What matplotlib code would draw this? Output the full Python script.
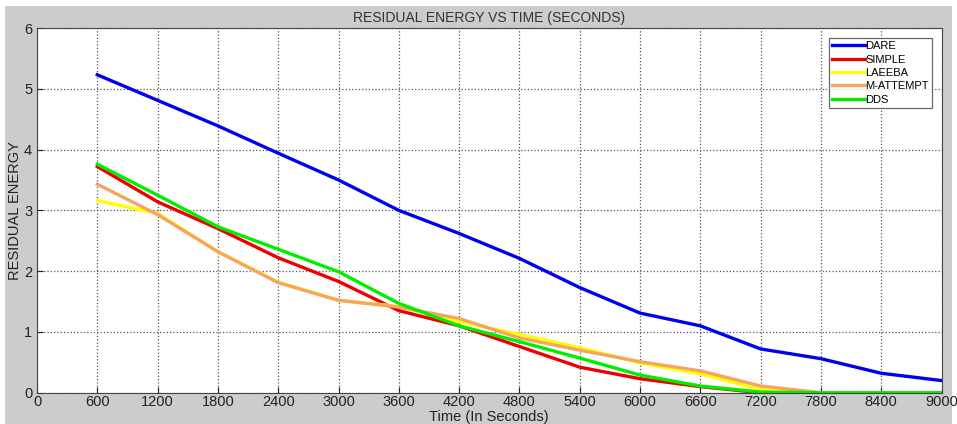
import numpy as np
import matplotlib
matplotlib.use("Agg")
import matplotlib.pyplot as plt
from matplotlib.patches import Rectangle

# temps (s) et énergie résiduelle
time_s = [600, 1200, 1800, 2400, 3000, 3600, 4200, 4800, 5400, 6000, 6600, 7200, 7800, 8400, 9000]
dare = [5.23, 4.81, 4.39, 3.94, 3.50, 3.00, 2.62, 2.21, 1.73, 1.31, 1.10, 0.72, 0.56, 0.32, 0.20]
simple = [3.72, 3.14, 2.70, 2.22, 1.83, 1.35, 1.10, 0.76, 0.42, 0.23, 0.10, 0.0, 0.0, 0.0, 0.0]
laeeba = [3.16, 2.95, 2.32, 1.82, 1.52, 1.42, 1.17, 0.96, 0.74, 0.49, 0.31, 0.05, 0.0, 0.0, 0.0]
m_attempt = [3.43, 2.93, 2.32, 1.81, 1.52, 1.41, 1.22, 0.90, 0.70, 0.51, 0.36, 0.11, 0.0, 0.0, 0.0]
dds = [3.76, 3.25, 2.73, 2.36, 1.99, 1.47, 1.10, 0.84, 0.57, 0.29, 0.11, 0.01, 0.0, 0.0, 0.0]

labels = ["DARE", "SIMPLE", "LAEEBA", "M-ATTEMPT", "DDS"]
colors = ["#0000ee", "#ee0000", "#ffff00", "#f5a55f", "#00ee00"]
series = [dare, simple, laeeba, m_attempt, dds]

x_ticks = [0, 600, 1200, 1800, 2400, 3000, 3600, 4200, 4800, 5400, 6000, 6600, 7200, 7800, 8400, 9000]
y_ticks = [0, 1, 2, 3, 4, 5, 6]

plt.rcParams['font.family'] = ['Liberation Sans', 'DejaVu Sans']

fig = plt.figure(figsize=(9.57, 4.24), dpi=100, facecolor='white')
# fond gris façon matlab
fig.patches.append(Rectangle((5/957, 0), 947/957, 418/424, transform=fig.transFigure,
                             facecolor='#cccccc', edgecolor='none', zorder=-10))
ax = fig.add_axes([37/957, 31.3/424, 904.5/957, 364.7/424])
ax.set_zorder(1)
ax.set_facecolor('white')

for y, lab, c in zip(series, labels, colors):
    ax.plot(time_s, y, color=c, lw=2.4, label=lab)

ax.set_xlim(0, 9000)
ax.set_ylim(0, 6)
ax.set_xticks(x_ticks)
ax.set_yticks(y_ticks)
ax.grid(True, linestyle=':', color='#555555', lw=0.9)
ax.tick_params(direction='in', labelsize=10.5, colors='#222222', length=4)
ax.tick_params(axis='x', pad=2)
for s in ax.spines.values():
    s.set_color('#444444')

ax.set_title("RESIDUAL ENERGY VS TIME (SECONDS)", fontsize=10, color='#333333', pad=4)
ax.set_xlabel("Time (In Seconds)", fontsize=10.5, color='#222222', labelpad=0.5)
ax.set_ylabel("RESIDUAL ENERGY", fontsize=10.5, color='#222222', labelpad=1)

leg = ax.legend(loc='upper right', bbox_to_anchor=(0.9895, 0.973), fontsize=8,
                frameon=True, fancybox=False, handlelength=3.0, handletextpad=0.0,
                labelspacing=0.3, borderpad=0.3, borderaxespad=0)
leg.get_frame().set_edgecolor('#444444')
leg.get_frame().set_linewidth(0.9)

fig.savefig("out.png", dpi=100, facecolor=fig.get_facecolor())
